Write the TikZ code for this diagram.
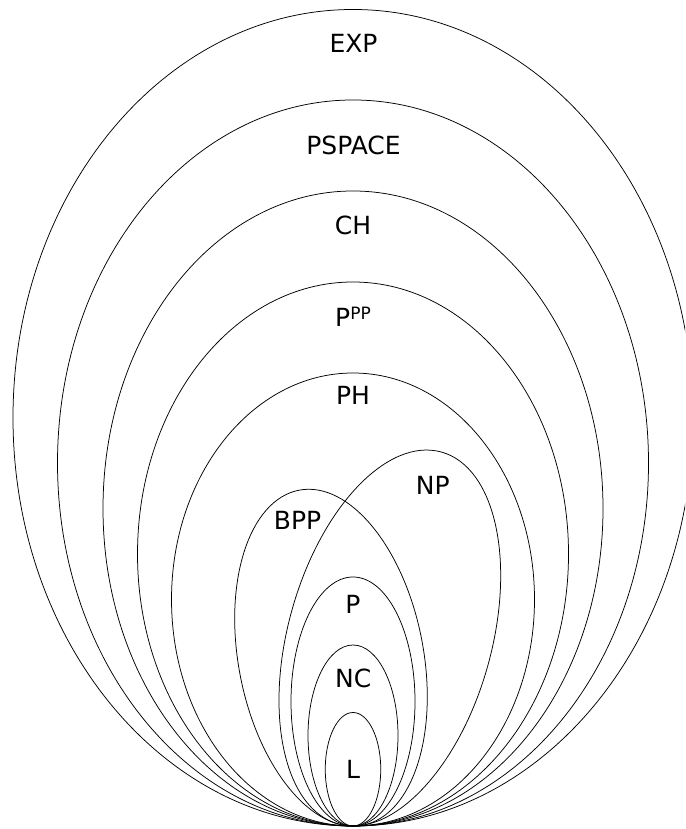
\documentclass[tikz,border=0pt]{standalone}
\usepackage{fontspec}
\setmainfont{DejaVu Sans}
\begin{document}
\begin{tikzpicture}[x=1pt,y=1pt,
  ring/.style={draw=black,line width=0.75pt},
  lbl/.style={anchor=base,inner sep=0pt,font=\fontsize{25}{29}\selectfont}]
\useasboundingbox (0,0) rectangle (685,829);
\clip (0,0) rectangle (685,829);
% nested classes, all touching at the bottom point
\draw[ring] (353,411.25) ellipse [x radius=340, y radius=408.25];
\draw[ring] (353,366) ellipse [x radius=295.5, y radius=363];
\draw[ring] (353,320.5) ellipse [x radius=250, y radius=317.5];
\draw[ring] (353,275) ellipse [x radius=215.5, y radius=272];
\draw[ring] (353,229.5) ellipse [x radius=181.5, y radius=226.5];
\draw[ring] (353,127.5) ellipse [x radius=62, y radius=124.5];
\draw[ring] (353,93.5) ellipse [x radius=45, y radius=90.5];
\draw[ring] (353,59.75) ellipse [x radius=27.75, y radius=56.75];
% NP (tilted right) and BPP (tilted left)
\coordinate (npc) at (389.85,191);
\draw[ring,rotate around={-15.5:(npc)}] (npc) ellipse [x radius=101.8, y radius=193];
\coordinate (bppc) at (331,171.35);
\draw[ring,rotate around={10.75:(bppc)}] (bppc) ellipse [x radius=92.5, y radius=170.5];
% labels
\node[lbl] (exp) at (353.5,776.7) {EXP};
\node[lbl] (pspace) at (353.5,674.5) {PSPACE};
\node[lbl] (ch) at (353,594) {CH};
\node[lbl] (ppp) at (353,502.3) {P\raisebox{7.5pt}{\fontsize{17}{17}\selectfont PP}};
\node[lbl] (ph) at (353,424) {PH};
\node[lbl] (np) at (432.7,334) {NP};
\node[lbl] (bpp) at (297.5,299) {BPP};
\node[lbl] (p) at (353,215) {P};
\node[lbl] (nc) at (353.3,141.3) {NC};
\node[lbl] (l) at (353,50) {L};
\end{tikzpicture}
\end{document}
